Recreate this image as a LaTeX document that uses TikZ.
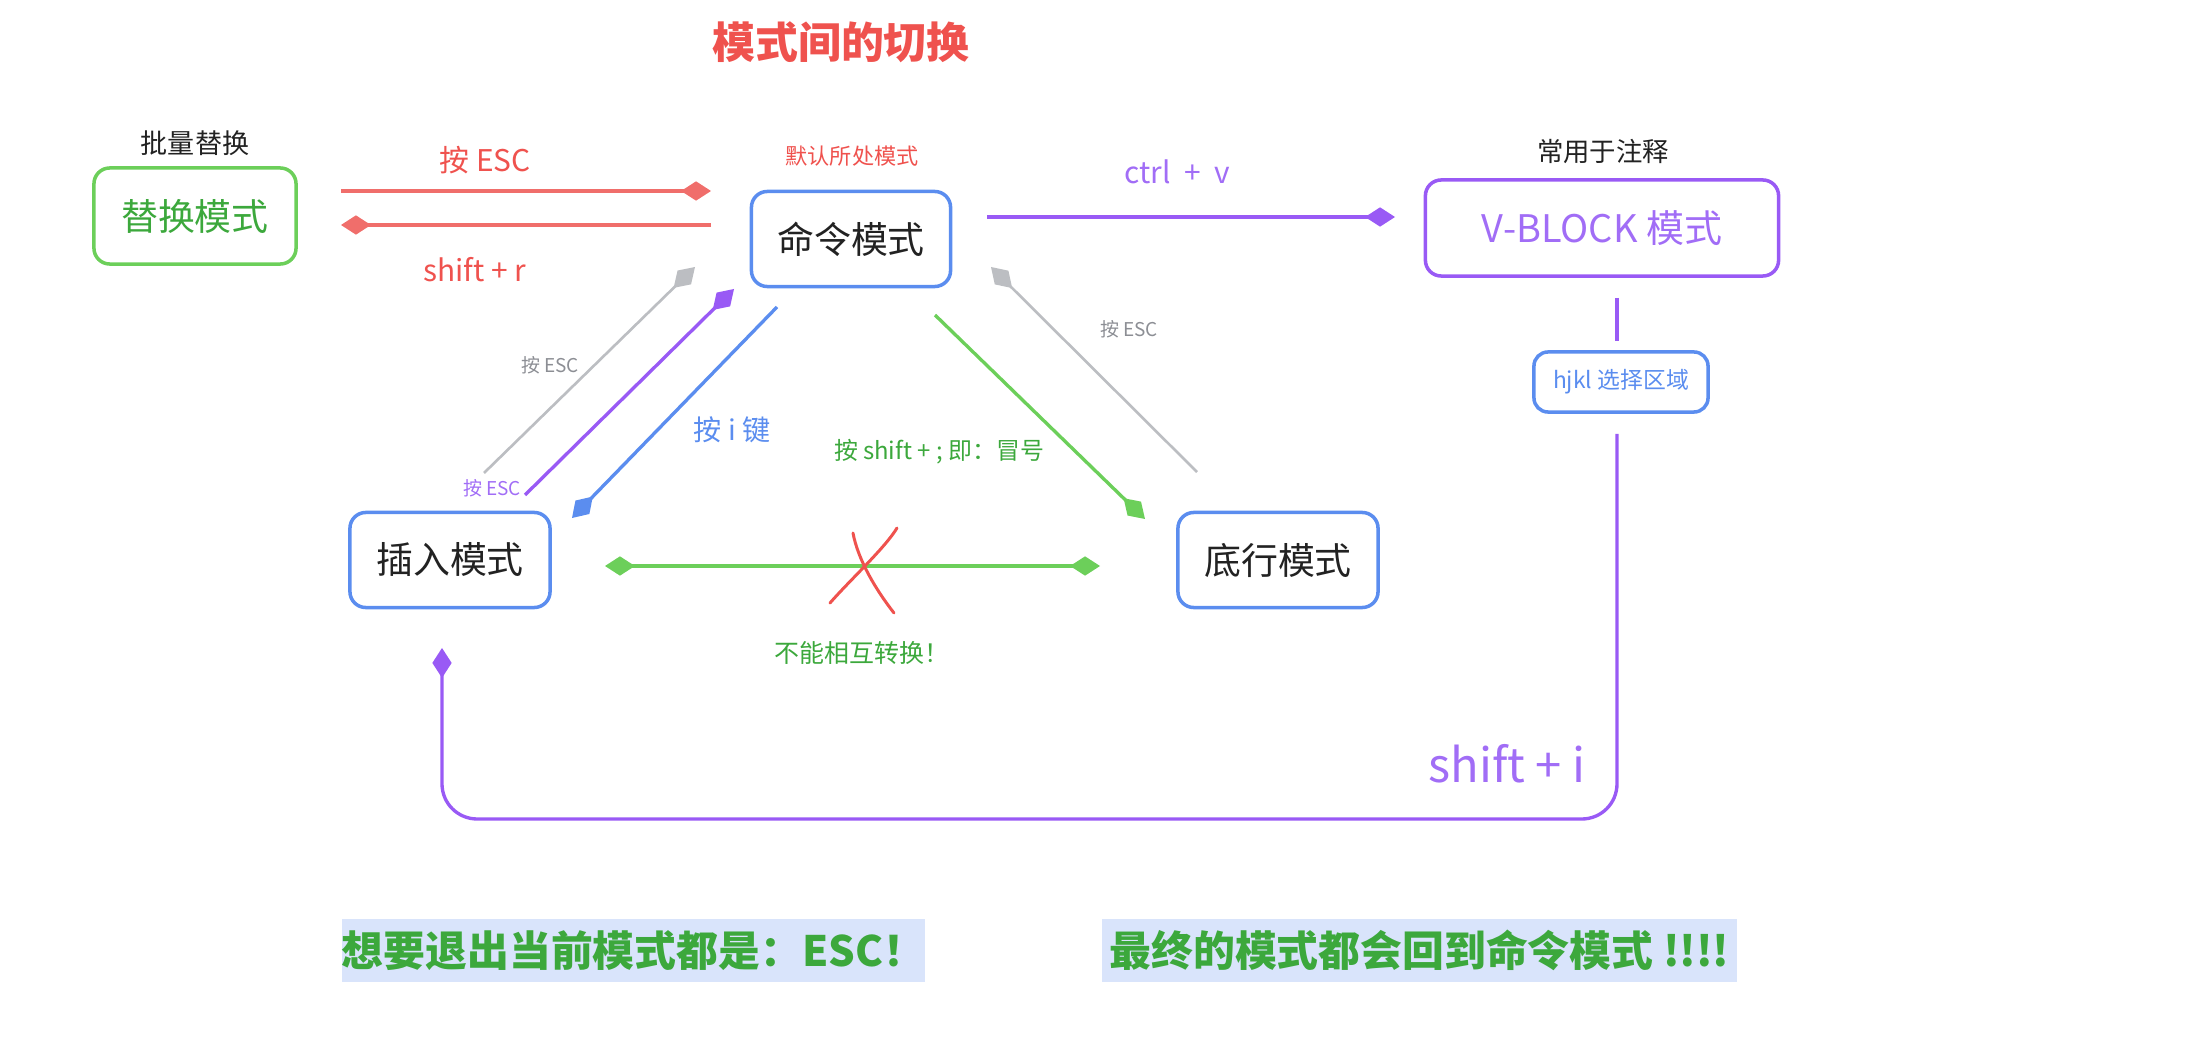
\documentclass[tikz,border=0pt]{standalone}
\usepackage{fontspec}
\setmainfont{Noto Sans CJK SC}
\usetikzlibrary{arrows.meta}

\definecolor{mred}{HTML}{EF524E}
\definecolor{mredline}{HTML}{F06E6B}
\definecolor{mgreen}{HTML}{3CA83C}
\definecolor{mgreenline}{HTML}{6CCF5A}
\definecolor{mblue}{HTML}{5B8DEF}
\definecolor{mpurple}{HTML}{995AF5}
\definecolor{mpurpletext}{HTML}{A16DF6}
\definecolor{mgray}{HTML}{BCBEC2}
\definecolor{mgraytext}{HTML}{8C8E94}
\definecolor{mblack}{HTML}{222222}
\definecolor{hlbg}{HTML}{D9E4FB}

\newcommand\fsz[1]{\fontsize{#1pt}{#1pt}\selectfont}

\begin{document}
\begin{tikzpicture}[x=0.01cm, y=-0.01cm,
  modebox/.style={draw=mblue, line width=1pt, rounded corners=4.5pt, minimum width=2cm,
    minimum height=0.95cm, inner sep=0pt, text=mblack, font=\fsz{10.5}},
  lbl/.style={inner sep=0pt},
  conn/.style={line width=0.95pt, -{Diamond[length=8.5pt,width=5.5pt]}},
  hlnote/.style={fill=hlbg, inner sep=0pt, minimum height=0.63cm, text=mgreen, font=\fsz{11.9}\bfseries}]

  \useasboundingbox (0,0) rectangle (2211,1046);

  \node[lbl, text=mred, font=\fsz{12.2}\bfseries] (title) at (841,42) {模式间的切换};

  % mode boxes
  \node[modebox, draw=mgreenline, minimum width=2.02cm, minimum height=0.96cm, text=mgreen] (rep) at (195,216) {替换模式};
  \node[modebox, minimum width=1.99cm] (cmd) at (851,239) {命令模式};
  \node[modebox] (ins) at (450,560) {插入模式};
  \node[modebox] (bot) at (1278,560) {底行模式};
  \node[modebox, draw=mpurple, minimum width=3.53cm, minimum height=0.96cm, text=mpurpletext, font=\fsz{10.8}] (vblk) at (1602,228) {V-BLOCK 模式};
  \node[modebox, minimum width=1.74cm, minimum height=0.6cm, rounded corners=4pt, text=mblue, font=\fsz{6.5}] (hjkl) at (1621,382) {hjkl 选择区域};

  % notes over the boxes
  \node[lbl, text=mblack, font=\fsz{7.7}] (batch) at (195,143) {批量替换};
  \node[lbl, text=mred, font=\fsz{6.3}] (dflt) at (852,156) {默认所处模式};
  \node[lbl, text=mblack, font=\fsz{7.5}] (cmt) at (1603,151) {常用于注释};

  % end points of the connectors
  \coordinate (rep-o) at (341,191);  \coordinate (cmd-i) at (711,191);
  \coordinate (cmd-o) at (711,225);  \coordinate (rep-i) at (341,225);
  \coordinate (ins-g) at (484,473);  \coordinate (cmd-g) at (695,267);
  \coordinate (ins-p) at (525,495);  \coordinate (cmd-p) at (734,289);
  \coordinate (cmd-b) at (777,307);  \coordinate (ins-b) at (572,518);
  \coordinate (cmd-gr) at (935,315); \coordinate (bot-gr) at (1145,519);
  \coordinate (bot-g) at (1197,472); \coordinate (cmd-g2) at (991,267);
  \coordinate (ins-h) at (605,566);  \coordinate (bot-h) at (1100,566);
  \coordinate (cmd-v) at (987,217);  \coordinate (vblk-v) at (1395,217);
  \coordinate (vblk-d) at (1617,298); \coordinate (hjkl-u) at (1617,341);
  \coordinate (hjkl-d) at (1617,434); \coordinate (loopR) at (1617,819);
  \coordinate (loopL) at (442,819);  \coordinate (ins-u) at (442,648);

  \draw[conn, draw=mredline] (rep-o) -- (cmd-i);
  \draw[conn, draw=mredline] (cmd-o) -- (rep-i);
  \draw[conn, draw=mgray, line width=0.75pt] (ins-g) -- (cmd-g);
  \draw[conn, draw=mpurple] (ins-p) -- (cmd-p);
  \draw[conn, draw=mblue] (cmd-b) -- (ins-b);
  \draw[conn, draw=mgreenline] (cmd-gr) -- (bot-gr);
  \draw[conn, draw=mgray, line width=0.75pt] (bot-g) -- (cmd-g2);
  \draw[conn, draw=mgreenline, {Diamond[length=8.5pt,width=5.5pt]}-{Diamond[length=8.5pt,width=5.5pt]}] (ins-h) -- (bot-h);
  \draw[conn, draw=mpurple] (cmd-v) -- (vblk-v);
  \draw[line width=0.95pt, draw=mpurple] (vblk-d) -- (hjkl-u);
  \draw[conn, draw=mpurple, rounded corners=10pt] (hjkl-d) -- (loopR) -- (loopL) -- (ins-u);

  % the red cross
  \draw[mred, line width=0.85pt, line cap=round] (853,533) .. controls (858,560) and (876,590) .. (894,613);
  \draw[mred, line width=0.85pt, line cap=round] (897,528) .. controls (885,548) and (850,580) .. (830,603);

  % connector labels
  \node[lbl, text=mred, font=\fsz{8.5}] (escA) at (485,160) {按 ESC};
  \node[lbl, text=mred, font=\fsz{8.5}] (shr) at (475,270) {shift + r};
  \node[lbl, text=mgraytext, font=\fsz{5.4}] (escL) at (550,365) {按 ESC};
  \node[lbl, text=mpurpletext, font=\fsz{5.4}] (escP) at (492,488) {按 ESC};
  \node[lbl, text=mblue, font=\fsz{8}] (keyi) at (732,430) {按 i 键};
  \node[lbl, text=mgreen, font=\fsz{6.8}] (colon) at (939,452) {按 shift + ; 即：冒号};
  \node[lbl, text=mgraytext, font=\fsz{5.4}] (escR) at (1129,329) {按 ESC};
  \node[lbl, text=mpurpletext, font=\fsz{8.5}] (ctrlv) at (1177,172) {ctrl~~+~~v};
  \node[lbl, text=mgreen, font=\fsz{7.1}] (nox) at (862,653) {不能相互转换！};
  \node[lbl, text=mpurpletext, font=\fsz{13.4}] (shi) at (1507,764) {shift + i};

  % notes at the bottom
  \node[hlnote, minimum width=5.83cm] (exitnote) at (633.5,950.5) {想要退出当前模式都是：ESC！};
  \node[hlnote, minimum width=6.35cm] (backnote) at (1419.5,950.5) {最终的模式都会回到命令模式 !!!!};
\end{tikzpicture}
\end{document}
